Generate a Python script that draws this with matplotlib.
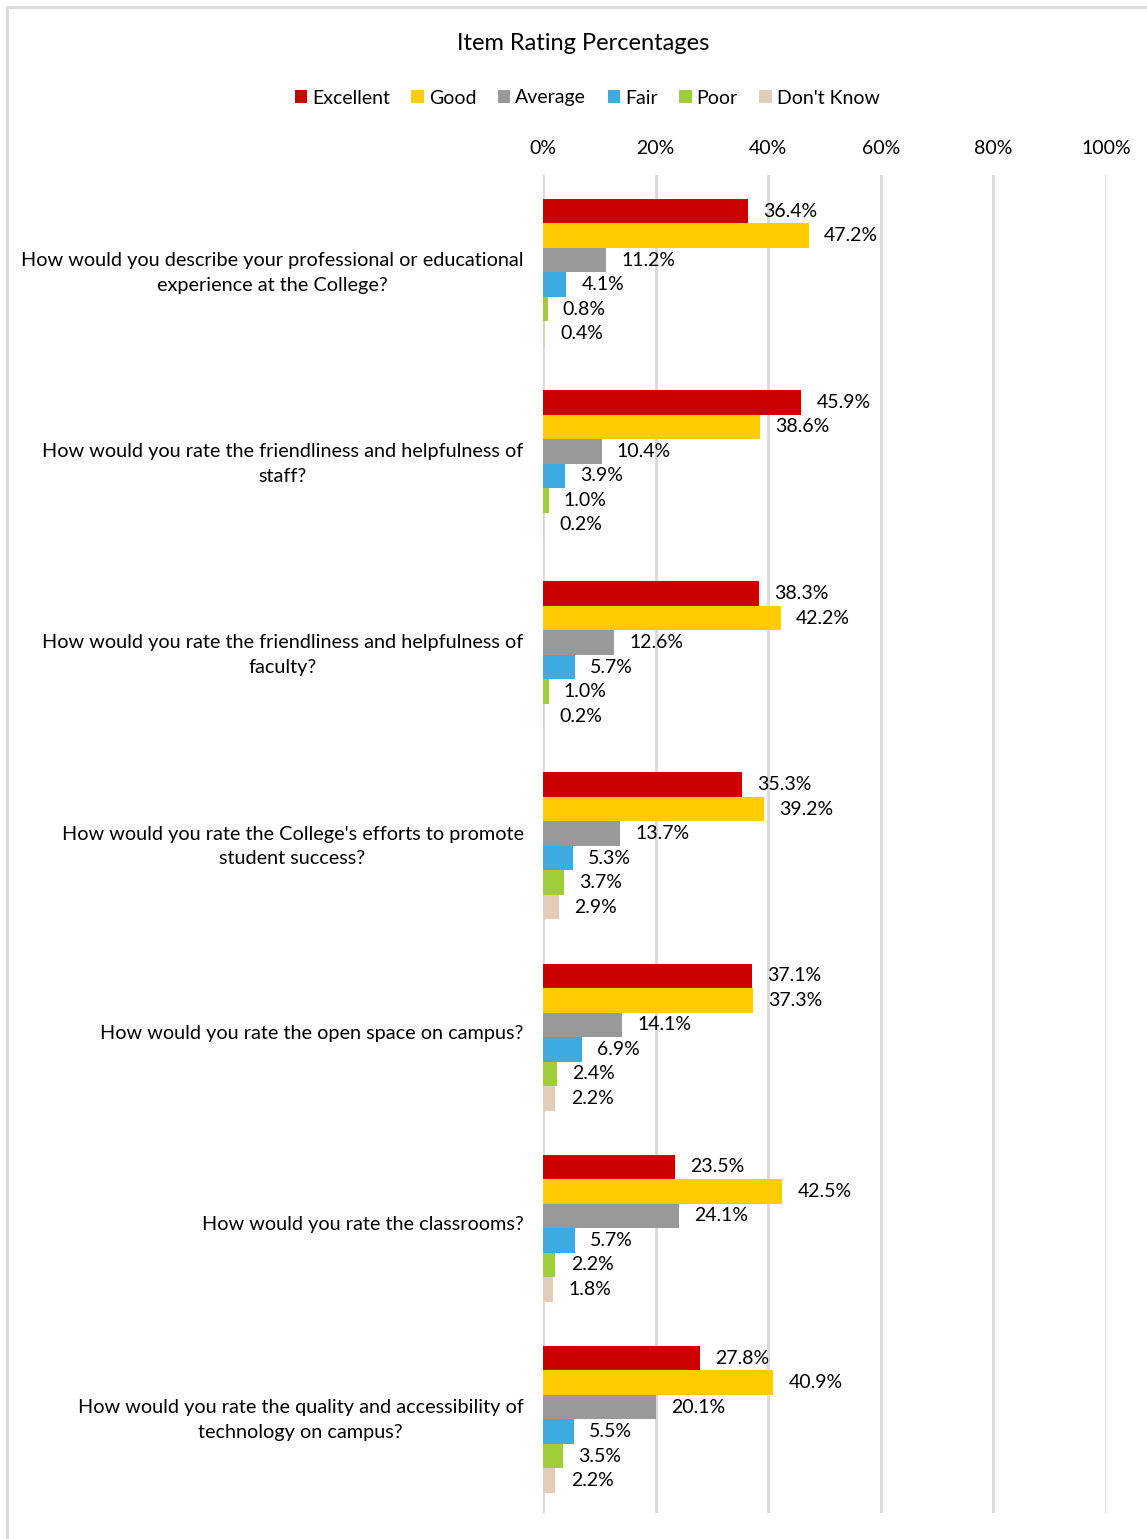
import numpy as np
import matplotlib.pyplot as plt
import matplotlib.transforms as mtransforms
from matplotlib.patches import Rectangle
from matplotlib.ticker import FuncFormatter

plt.rcParams['font.family'] = ['Lato', 'DejaVu Sans']

questions = [
  'How would you describe your professional or educational\nexperience at the College?',
  'How would you rate the friendliness and helpfulness of\nstaff?',
  'How would you rate the friendliness and helpfulness of\nfaculty?',
  "How would you rate the College's efforts to promote\nstudent success?",
  'How would you rate the open space on campus?',
  'How would you rate the classrooms?',
  'How would you rate the quality and accessibility of\ntechnology on campus?',
]
ratings = ['Excellent', 'Good', 'Average', 'Fair', 'Poor', "Don't Know"]
colors = ['#CC0000', '#FFCC00', '#999999', '#3DAAE0', '#A2CD3A', '#E3CDB9']

excellent = [36.4, 45.9, 38.3, 35.3, 37.1, 23.5, 27.8]
good = [47.2, 38.6, 42.2, 39.2, 37.3, 42.5, 40.9]
average = [11.2, 10.4, 12.6, 13.7, 14.1, 24.1, 20.1]
fair = [4.1, 3.9, 5.7, 5.3, 6.9, 5.7, 5.5]
poor = [0.8, 1.0, 1.0, 3.7, 2.4, 2.2, 3.5]
dont_know = [0.4, 0.2, 0.2, 2.9, 2.2, 1.8, 2.2]
series = [excellent, good, average, fair, poor, dont_know]

fig = plt.figure(figsize=(11.47, 15.39), dpi=100)
W, H = 1147, 1539
ax = fig.add_axes([543 / W, 1 - 1513 / H, (1106 - 543) / W, (1513 - 175) / H])

# outer chart frame, running off the right and bottom edges
fig.patches.append(Rectangle((7 / W, -0.05), 1.1, 1 - 7 / H + 0.05, transform=fig.transFigure,
                             fill=False, edgecolor='#D9D9D9', linewidth=2))

bar_h = 24.5 / 191.1
y = np.arange(len(questions))
for k, (name, vals, c) in enumerate(zip(ratings, series, colors)):
  pos = y + (k - 2.5) * bar_h + 0.01
  ax.barh(pos, vals, height=bar_h, color=c, label=name, zorder=3)
  for p, v in zip(pos, vals):
    ax.annotate(f'{v:.1f}%', xy=(v, p), xytext=(11, 0), textcoords='offset points',
                ha='left', va='center', fontsize=14, color='#000000')

ax.set_xlim(0, 100)
ax.set_ylim(len(questions) - 0.5, -0.5)
ax.set_xticks(np.arange(0, 101, 20))
ax.xaxis.set_major_formatter(FuncFormatter(lambda v, _: f'{v:.0f}%'))
ax.xaxis.tick_top()
ax.tick_params(axis='x', length=0, pad=13, labelsize=14)
ax.tick_params(axis='y', length=0, pad=14, labelsize=14.3)
ax.set_yticks(y)
ax.set_yticklabels(questions, multialignment='center', linespacing=1.55)
# nudge the question labels up a little
lift = mtransforms.ScaledTranslation(0, 3 / 100, fig.dpi_scale_trans)
for lbl in ax.get_yticklabels():
  lbl.set_transform(lbl.get_transform() + lift)
ax.grid(axis='x', color='#D9D9D9', linewidth=2, zorder=0)
for s in ax.spines.values():
  s.set_visible(False)

fig.text(583 / W, 1 - 43 / H, 'Item Rating Percentages', ha='center', va='center', fontsize=17)
fig.legend(loc='center', bbox_to_anchor=(587 / W, 1 - 98 / H), ncol=6, frameon=False,
           fontsize=14, handlelength=0.65, handleheight=0.65, handletextpad=0.25,
           columnspacing=1.1)

fig.savefig('out.png', dpi=100)
